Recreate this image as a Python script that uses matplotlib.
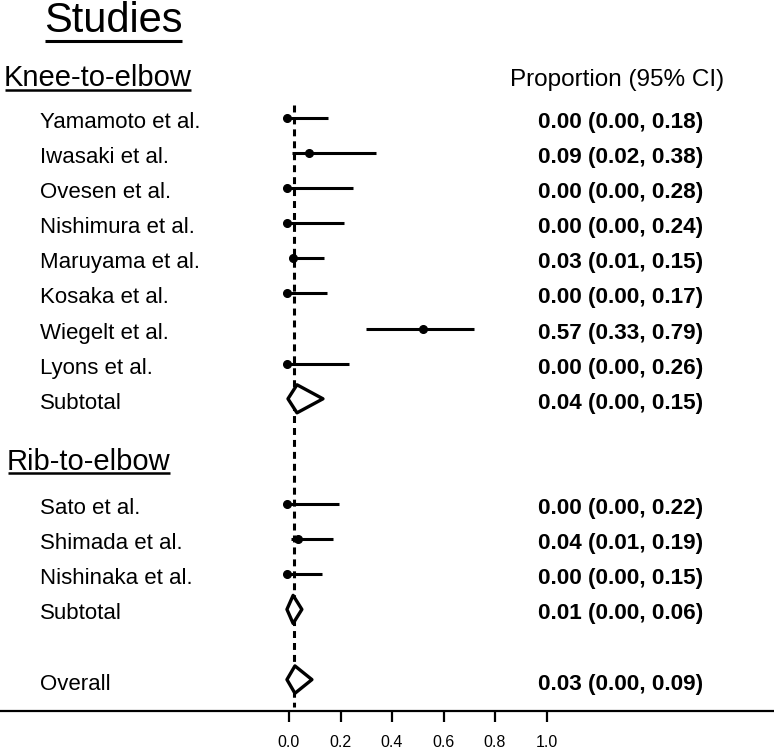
import matplotlib
matplotlib.use("Agg")
import matplotlib.pyplot as plt
from matplotlib.patches import Polygon
from matplotlib import transforms

plt.rcParams['font.family'] = ['Liberation Sans', 'DejaVu Sans']
plt.rcParams['lines.scale_dashes'] = False

# ---------------- data ----------------
knee_studies = ["Yamamoto et al.", "Iwasaki et al.", "Ovesen et al.", "Nishimura et al.",
                "Maruyama et al.", "Kosaka et al.", "Wiegelt et al.", "Lyons et al."]
knee_prop = [0.00, 0.09, 0.00, 0.00, 0.03, 0.00, 0.57, 0.00]
knee_lo = [0.00, 0.02, 0.00, 0.00, 0.01, 0.00, 0.33, 0.00]
knee_hi = [0.18, 0.38, 0.28, 0.24, 0.15, 0.17, 0.79, 0.26]
knee_sub = (0.04, 0.00, 0.15)

rib_studies = ["Sato et al.", "Shimada et al.", "Nishinaka et al."]
rib_prop = [0.00, 0.04, 0.00]
rib_lo = [0.00, 0.01, 0.00]
rib_hi = [0.22, 0.19, 0.15]
rib_sub = (0.01, 0.00, 0.06)

overall = (0.03, 0.00, 0.09)

# positions of marks as drawn on the plot's axis
knee_plot_est = [-0.008, 0.078, -0.008, -0.008, 0.016, -0.008, 0.520, -0.008]
knee_plot_lo = [-0.008, 0.012, -0.008, -0.008, 0.004, -0.008, 0.299, -0.008]
knee_plot_hi = [0.151, 0.338, 0.249, 0.214, 0.136, 0.148, 0.718, 0.233]
knee_sub_plot = (0.031, -0.004, 0.132)   # centre, left, right

rib_plot_est = [-0.008, 0.035, -0.008]
rib_plot_lo = [-0.008, 0.008, -0.008]
rib_plot_hi = [0.194, 0.171, 0.128]
rib_sub_plot = (0.016, -0.008, 0.050)

overall_plot = (0.023, -0.008, 0.089)
ref_line = 0.019

xticks = [0.0, 0.2, 0.4, 0.6, 0.8, 1.0]
xticklabels = ["0.0", "0.2", "0.4", "0.6", "0.8", "1.0"]

# ---------------- layout ----------------
W, H = 774, 752
X0, XS = 289.0, 257.5         # pixel of 0.0 and pixels per unit
Y0, YS = 118.0, 35.1          # pixel of row 0 and pixels per row

fig = plt.figure(figsize=(W / 100, H / 100), dpi=100)
ax = fig.add_axes([0, 0, 1, 1])
ax.set_xlim(-X0 / XS, (W - X0) / XS)
ax.set_ylim((H - Y0) / YS, -Y0 / YS)

def row_of(py):
    return (py - Y0) / YS

trans = transforms.blended_transform_factory(fig.transFigure, ax.transData)
def fx(px):
    return px / W

knee_rows = list(range(len(knee_studies)))
knee_sub_row = len(knee_studies)
rib_rows = [knee_sub_row + 3 + i for i in range(len(rib_studies))]
rib_sub_row = rib_rows[-1] + 1
overall_row = rib_sub_row + 2

base_off = 10 / YS
name_fs = 16
val_fs = 16.2
lw = 2.2

# dashed reference line
ax.plot([ref_line, ref_line], [row_of(105), row_of(707)], color='black', lw=2.2,
        dashes=(5, 3.6), zorder=1)

def study_rows(rows, names, prop, lo, hi, pe, pl, ph):
    for r, n, p, l, h, e, a, b in zip(rows, names, prop, lo, hi, pe, pl, ph):
        ax.plot([a, b], [r, r], color='black', lw=lw, solid_capstyle='butt', zorder=3)
        ax.plot([e], [r], marker='o', color='black', ms=5.5, zorder=4)
        ax.text(fx(40), r + base_off, n, transform=trans, fontsize=name_fs,
                va='baseline', ha='left')
        ax.text(fx(538), r + base_off, f"{p:.2f} ({l:.2f}, {h:.2f})", transform=trans,
                fontsize=val_fs, va='baseline', ha='left', fontweight='bold')

def diamond(r, plot_vals, vals, label, half=0.4):
    c, l, h = plot_vals
    poly = Polygon([(l, r), (c, r - half), (h, r), (c, r + half)], closed=True,
                   facecolor='white', edgecolor='black', lw=2.4, joinstyle='round', zorder=2)
    ax.add_patch(poly)
    ax.text(fx(40), r + base_off, label, transform=trans, fontsize=name_fs,
            va='baseline', ha='left')
    ax.text(fx(538), r + base_off, f"{vals[0]:.2f} ({vals[1]:.2f}, {vals[2]:.2f})",
            transform=trans, fontsize=val_fs, va='baseline', ha='left', fontweight='bold')

study_rows(knee_rows, knee_studies, knee_prop, knee_lo, knee_hi,
           knee_plot_est, knee_plot_lo, knee_plot_hi)
diamond(knee_sub_row, knee_sub_plot, knee_sub, "Subtotal")
study_rows(rib_rows, rib_studies, rib_prop, rib_lo, rib_hi,
           rib_plot_est, rib_plot_lo, rib_plot_hi)
diamond(rib_sub_row, rib_sub_plot, rib_sub, "Subtotal")
diamond(overall_row, overall_plot, overall, "Overall", half=0.39)

# headers
t_studies = ax.text(fx(44), row_of(32), "Studies", transform=trans, fontsize=30,
                    va='baseline', ha='left')
t_knee = ax.text(fx(4), row_of(86), "Knee-to-elbow", transform=trans, fontsize=21,
                 va='baseline', ha='left')
t_rib = ax.text(fx(7), row_of(470), "Rib-to-elbow", transform=trans, fontsize=21,
                va='baseline', ha='left')
ax.text(fx(510), row_of(86), "Proportion (95% CI)", transform=trans, fontsize=17.5,
        va='baseline', ha='left')

# axis
for s in ['top', 'left', 'right']:
    ax.spines[s].set_visible(False)
ax.spines['bottom'].set_position(('data', row_of(711)))
ax.spines['bottom'].set_linewidth(1.6)
ax.set_xticks(xticks)
ax.set_xticklabels(xticklabels, fontsize=11.5)
ax.tick_params(axis='x', direction='out', length=8, width=1.6, pad=9)
ax.set_yticks([])

# underlines
fig.canvas.draw()
renderer = fig.canvas.get_renderer()
inv = ax.transData.inverted()
for t, gap_px, lwu in [(t_studies, 9, 2.2), (t_knee, 4, 1.8), (t_rib, 3, 1.8)]:
    bb = t.get_window_extent(renderer)
    base_disp = ax.transData.transform((0, t.get_position()[1]))[1]
    yline = base_disp - gap_px
    (x1, y1) = inv.transform((bb.x0 + 1, yline))
    (x2, _) = inv.transform((bb.x1 - 1, yline))
    ax.plot([x1, x2], [y1, y1], color='black', lw=lwu, solid_capstyle='butt')

fig.savefig("out.png", dpi=100)
